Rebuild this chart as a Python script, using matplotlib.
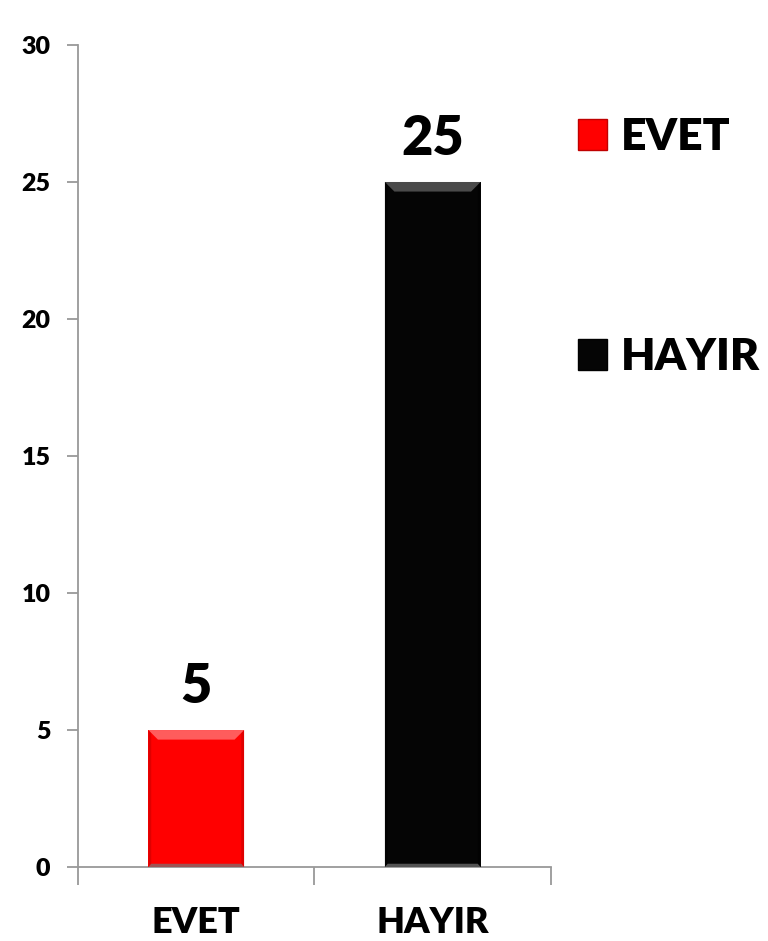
import matplotlib
matplotlib.use("Agg")
import matplotlib.pyplot as plt
from matplotlib.patches import Polygon, Patch

categories = ["EVET", "HAYIR"]
values = [5, 25]
colors = ["#ff0000", "#050505"]
highlights = ["#ff5c5c", "#4a4a4a"]
shades = ["#c00000", "#000000"]
y_ticks = [0, 5, 10, 15, 20, 25, 30]

plt.rcParams["font.family"] = ["Lato", "DejaVu Sans"]
W = "heavy"

fig = plt.figure(figsize=(7.68, 9.41), dpi=100)
ax = fig.add_axes([0.1016, 0.0786, 0.6158, 0.8736])

x = list(range(len(categories)))
bars = ax.bar(x, values, width=0.405, color=colors, zorder=3)

# bevelled look: lighter top edge, darker sides and base
for b, hl, sh in zip(bars, highlights, shades):
    x0, w, h = b.get_x(), b.get_width(), b.get_height()
    x1 = x0 + w
    bx = w * 0.1
    by = 0.35
    ax.add_patch(Polygon([(x0, h), (x1, h), (x1 - bx, h - by), (x0 + bx, h - by)],
                         closed=True, facecolor=hl, edgecolor="none", zorder=4))
    ax.add_patch(Polygon([(x0, 0), (x0 + w * 0.03, 0.12), (x0 + w * 0.03, h - 0.12), (x0, h)],
                         closed=True, facecolor=sh, edgecolor="none", zorder=4, alpha=0.5))
    ax.add_patch(Polygon([(x1, 0), (x1 - w * 0.03, 0.12), (x1 - w * 0.03, h - 0.12), (x1, h)],
                         closed=True, facecolor=sh, edgecolor="none", zorder=4, alpha=0.5))
    ax.add_patch(Polygon([(x0, 0), (x1, 0), (x1 - w * 0.03, 0.12), (x0 + w * 0.03, 0.12)],
                         closed=True, facecolor="#777777", edgecolor="none", zorder=4, alpha=0.7))

for xi, v in zip(x, values):
    ax.annotate(str(v), (xi, v), xytext=(0, 13), textcoords="offset points",
                ha="center", va="bottom", fontsize=39, fontweight=W, color="black")

ax.set_xlim(-0.5, len(categories) - 0.5)
ax.set_ylim(0, 30)
ax.set_yticks(y_ticks)
ax.set_yticklabels([str(t) for t in y_ticks], fontsize=18, fontweight=W)

ax.set_xticks(x)
ax.set_xticklabels(categories, fontsize=26, fontweight=W)
ax.set_xticks([i - 0.5 for i in range(len(categories) + 1)], minor=True)
ax.tick_params(axis="x", which="major", length=0, pad=28)
ax.tick_params(axis="x", which="minor", length=13, width=1.3, color="#999999", direction="out")
ax.tick_params(axis="y", length=8, width=1.3, color="#999999", pad=12)

for side in ("top", "right"):
    ax.spines[side].set_visible(False)
for side in ("left", "bottom"):
    ax.spines[side].set_color("#999999")
    ax.spines[side].set_linewidth(1.3)

handles = [Patch(facecolor=c, edgecolor=s, linewidth=1) for c, s in zip(colors, shades)]
fig.legend(handles, categories, loc="upper left", bbox_to_anchor=(0.7, 0.918),
           frameon=False, prop={"weight": W, "size": 32},
           handlelength=0.67, handleheight=0.67, handletextpad=0.3, labelspacing=4.05)

fig.savefig("out.png", dpi=100, facecolor="white")
